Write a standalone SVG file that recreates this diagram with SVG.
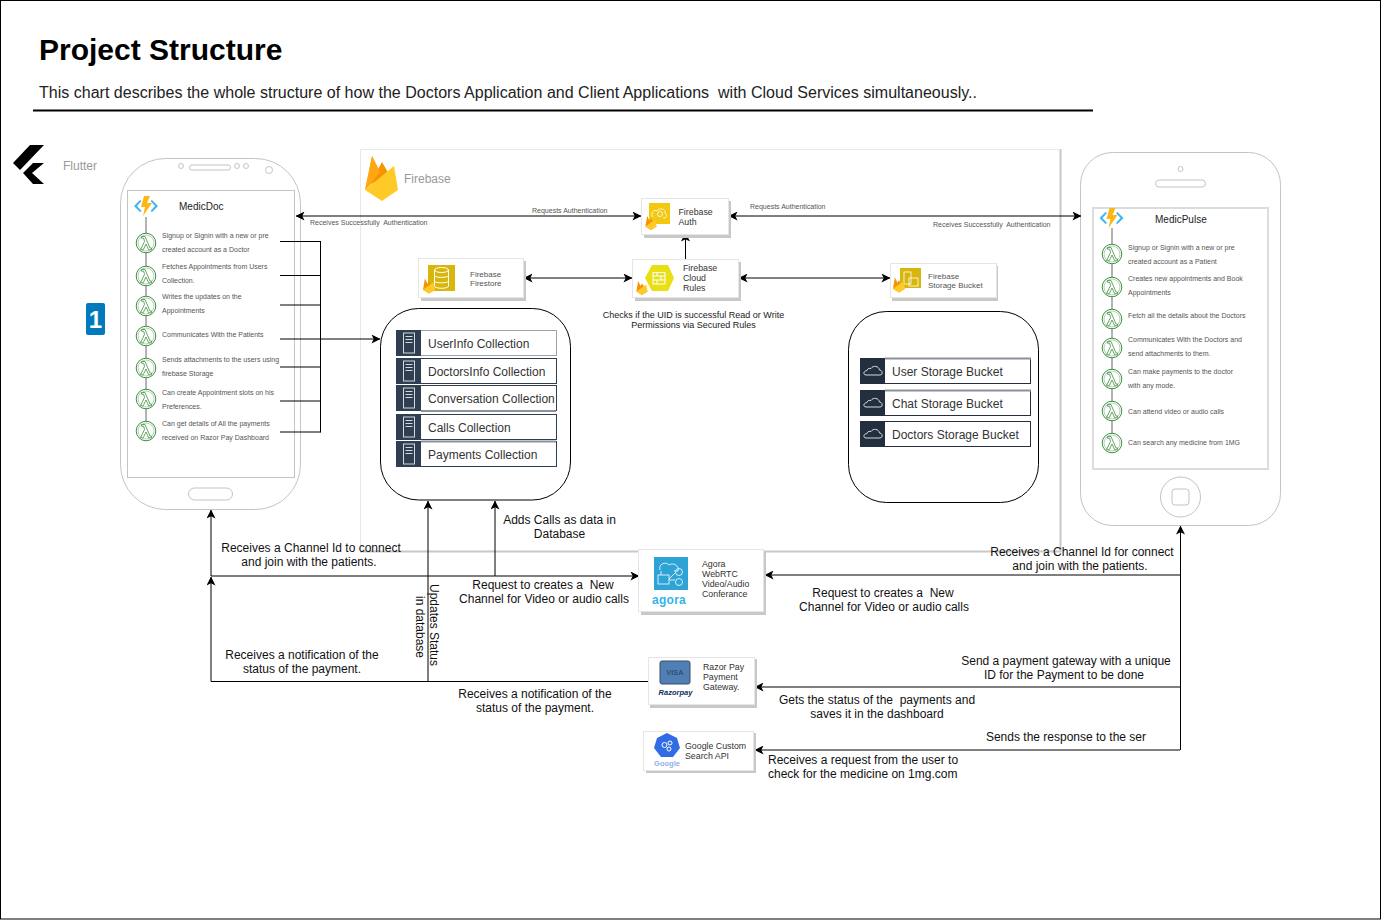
<svg xmlns="http://www.w3.org/2000/svg" width="1381" height="920" viewBox="0 0 1381 920">
<style>
text{font-family:"Liberation Sans",Arial,sans-serif;fill:#000;white-space:pre}
.l{font-size:12px;fill:#111}
.s{font-size:7px;fill:#555}
.t{font-size:8.800px;fill:#333}
.f{font-size:8px;fill:#555}
.a{font-size:7px;fill:#555}
.c{font-size:12px;fill:#333}
.m{text-anchor:middle}
.w{fill:none;stroke:#000;stroke-width:1}
.ph{fill:#fff;stroke:#c4c4c4;stroke-width:1}
.scr{fill:#fff;stroke:#c4c4c4;stroke-width:1}
.card{fill:#fff;stroke:#e6e6e6;stroke-width:1}
.sh{fill:#c8c8c8}
.rr{fill:#fff;stroke:#000;stroke-width:1}
.it{fill:#fff;stroke:#2f3e50;stroke-width:1}
.ib{fill:#2f3e50}
.sb{fill:#232f3e}
.top{stroke:#8a919b;stroke-width:2;fill:none}
</style>
<defs>
<marker id="a" viewBox="0 0 10 10" refX="9.500" refY="5" markerWidth="9" markerHeight="9" orient="auto-start-reverse" markerUnits="userSpaceOnUse"><path d="M0,0L10,5L0,10L2.500,5Z" fill="#000"/></marker>
<g id="lam"><circle cx="0" cy="0" r="9.800" fill="#fff" stroke="#3f8f3f" stroke-width="1"/><circle cx="0" cy="0" r="8" fill="none" stroke="#3f8f3f" stroke-width=".4"/><path d="M-4.500,-6.500H-1L4,5H5.500V6.800H2.700L0,1L-2.800,6.800H-5.500L-1.500,-1.500L-2.300,-4.800H-4.500Z" fill="#fff" stroke="#3f8f3f" stroke-width=".8"/></g>
<g id="fn"><path d="M-12,0L-6,-6L-4.500,-5L-9,0L-4.500,5L-6,6ZM12,0L6,-6L4.500,-5L9,0L4.500,5L6,6Z" fill="#3fb5ee"/><path d="M-2,-10H4L1,-3H6L-3,10L-1,1H-5Z" fill="#fcb714"/></g>
<g id="flame"><path d="M-8,5L-5.500,-10L-2,-3L0,-6.500L8,5L0,10Z" fill="#f59300"/><path d="M-8,5L6,-5L8,5L0,10Z" fill="#ffca28"/></g>
<g id="doc"><rect x="-5.500" y="-10" width="11" height="20" fill="none" stroke="#d5d9de" stroke-width="1"/><path d="M-3.500,-6.500H3.500M-3.500,-3.500H3.500M-3.500,-.5H3.500" stroke="#d5d9de" stroke-width="1"/></g>
<path id="cl" d="M-7,4H7C10,4 10,-1 6.500,-1C6,-5 0,-6 -2,-2.500C-5,-3.500 -6,-1 -6,-.5C-10,0 -10,4 -7,4Z" fill="none" stroke="#d5d9de" stroke-width="1"/>
</defs>
<rect width="1381" height="920" fill="#fff"/>
<rect x=".5" y=".5" width="1380" height="918.500" fill="none" stroke="#000"/>
<text x="39" y="60" style="font-size:30px;font-weight:bold">Project Structure</text>
<text x="39" y="98" style="font-size:16.050px;fill:#222">This chart describes the whole structure of how the Doctors Application and Client Applications  with Cloud Services simultaneously..</text>
<path d="M33,110.500H1093" stroke="#000" stroke-width="2"/>

<g id="firebase-container">
<path d="M1060.500,149V551.500H360" fill="none" stroke="#c8c8c8" stroke-width="2"/>
<path d="M360.500,551V149.500H1060" fill="none" stroke="#e8e8e8" stroke-width="1"/>
<path d="M365,190L372,156L382,176Z" fill="#ffc024"/><path d="M370,184L382,162L390,176Z" fill="#f59300"/><path d="M365,190L372,156L380,172L372,182Z" fill="#ffa712"/><path d="M365,190L394,166L398,190L382,201Z" fill="#ffca28"/>
<text x="404" y="183" style="font-size:12px;fill:#999">Firebase</text>
</g>

<g id="flutter-logo">
<path d="M13,163L30,145H44L20,170Z" fill="#000"/><path d="M33,163H44L32,173L44,184H33L23,173Z" fill="#000"/>
<text x="63" y="170" style="font-size:12px;fill:#999">Flutter</text>
</g>
<g id="badge"><rect x="86" y="303" width="19" height="32" rx="2" fill="#0079bd"/><text x="95.500" y="328" class="m" style="font-size:24px;font-weight:bold;fill:#fff">1</text></g>

<g id="medicdoc">
<rect class="ph" x="120.500" y="158.500" width="180" height="351" rx="45"/>
<rect class="scr" x="127.500" y="190.500" width="167" height="287"/>
<circle cx="181" cy="166" r="2.500" fill="#fff" stroke="#c4c4c4"/><rect x="189.500" y="165" width="41" height="5" rx="2.500" fill="#fff" stroke="#c4c4c4"/><circle cx="237" cy="166" r="2.500" fill="#fff" stroke="#c4c4c4"/><circle cx="246" cy="166" r="2.500" fill="#fff" stroke="#c4c4c4"/><circle cx="269" cy="170" r="3.500" fill="#fff" stroke="#c4c4c4"/>
<rect x="188.500" y="488" width="44" height="12" rx="6" fill="#fff" stroke="#c4c4c4"/>
<path d="M146,217V430" stroke="#666" stroke-width="1"/>
<use href="#fn" x="146" y="206"/>
<text x="179" y="210" style="font-size:10px;fill:#222">MedicDoc</text>
<use href="#lam" x="146" y="243"/><use href="#lam" x="146" y="276"/><use href="#lam" x="146" y="306"/><use href="#lam" x="146" y="336"/><use href="#lam" x="146" y="368"/><use href="#lam" x="146" y="399"/><use href="#lam" x="146" y="431"/>
<text class="s" x="162" y="238">Signup or Signin with a new or pre</text>
<text class="s" x="162" y="252">created account as a Doctor</text>
<text class="s" x="162" y="269">Fetches Appointments from Users</text>
<text class="s" x="162" y="283">Collection.</text>
<text class="s" x="162" y="299">Writes the updates on the</text>
<text class="s" x="162" y="313">Appointments</text>
<text class="s" x="162" y="337">Communicates With the Patients</text>
<text class="s" x="162" y="362">Sends attachments to the users using</text>
<text class="s" x="162" y="376">firebase Storage</text>
<text class="s" x="162" y="395">Can create Appointment slots on his</text>
<text class="s" x="162" y="409">Preferences.</text>
<text class="s" x="162" y="426">Can get details of All the payments</text>
<text class="s" x="162" y="440">received on Razor Pay Dashboard</text>
</g>

<g id="medicpulse">
<rect class="ph" x="1080.500" y="152.500" width="200" height="373" rx="32"/>
<rect x="1093" y="208" width="175" height="261" fill="#fff" stroke="#dcdcdc" stroke-width="2"/>
<circle cx="1180.500" cy="169" r="2.500" fill="#fff" stroke="#c4c4c4"/><rect x="1155.500" y="180" width="50" height="7" rx="3.500" fill="#fff" stroke="#c4c4c4"/>
<circle cx="1180.500" cy="497" r="20" fill="#fff" stroke="#c4c4c4"/><rect x="1172" y="489" width="17" height="16" rx="3" fill="#fff" stroke="#c4c4c4"/>
<path d="M1112,228V443" stroke="#666" stroke-width="1"/>
<use href="#fn" x="1111.500" y="218"/>
<text x="1155" y="223" style="font-size:10px;fill:#222">MedicPulse</text>
<use href="#lam" x="1112" y="254"/><use href="#lam" x="1112" y="287"/><use href="#lam" x="1112" y="319"/><use href="#lam" x="1112" y="348"/><use href="#lam" x="1112" y="379"/><use href="#lam" x="1112" y="411"/><use href="#lam" x="1112" y="443"/>
<text class="s" x="1128" y="250">Signup or Signin with a new or pre</text>
<text class="s" x="1128" y="264">created account as a Patient</text>
<text class="s" x="1128" y="281">Creates new appointments and Book</text>
<text class="s" x="1128" y="295">Appointments</text>
<text class="s" x="1128" y="318">Fetch all the details about the Doctors</text>
<text class="s" x="1128" y="342">Communicates With the Doctors and</text>
<text class="s" x="1128" y="356">send attachments to them.</text>
<text class="s" x="1128" y="374">Can make payments to the doctor</text>
<text class="s" x="1128" y="388">with any mode.</text>
<text class="s" x="1128" y="414">Can attend video or audio calls</text>
<text class="s" x="1128" y="445">Can search any medicine from 1MG</text>
</g>

<g id="firestore-collections">
<rect class="rr" x="380.500" y="308.500" width="190" height="191.500" rx="38"/>
<g id="c1"><rect class="it" x="396.500" y="330.500" width="160" height="25" style="stroke:#9aa3ad"/><rect class="ib" x="396" y="330" width="25" height="26"/><use href="#doc" x="409" y="343"/><text class="c" x="428" y="348">UserInfo Collection</text></g>
<g id="c2"><rect class="it" x="396.500" y="358.500" width="160" height="25"/><rect class="ib" x="396" y="358" width="25" height="26"/><use href="#doc" x="409" y="371"/><text class="c" x="428" y="376">DoctorsInfo Collection</text></g>
<g id="c3"><rect class="it" x="396.500" y="385.500" width="160" height="25"/><path class="top" d="M421,411H556"/><rect class="ib" x="396" y="385" width="25" height="26"/><use href="#doc" x="409" y="398"/><text class="c" x="428" y="403">Conversation Collection</text></g>
<g id="c4"><rect class="it" x="396.500" y="414.500" width="160" height="25"/><rect class="ib" x="396" y="414" width="25" height="26"/><use href="#doc" x="409" y="427"/><text class="c" x="428" y="432">Calls Collection</text></g>
<g id="c5"><rect class="it" x="396.500" y="441.500" width="160" height="25"/><path class="top" d="M421,441.500H556"/><rect class="ib" x="396" y="441" width="25" height="26"/><use href="#doc" x="409" y="454"/><text class="c" x="428" y="459">Payments Collection</text></g>
</g>

<g id="storage-buckets">
<rect class="rr" x="848.500" y="311.500" width="190" height="191" rx="38"/>
<g id="b1"><rect class="it" x="860.500" y="358.500" width="170" height="25" style="stroke:#232f3e"/><path class="top" d="M885,358.500H1031"/><rect class="sb" x="860" y="358" width="25" height="26"/><use href="#cl" x="873" y="371"/><text class="c" x="892" y="376">User Storage Bucket</text></g>
<g id="b2"><rect class="it" x="860.500" y="390.500" width="170" height="25" style="stroke:#232f3e"/><path class="top" d="M885,390.500H1031"/><rect class="sb" x="860" y="390" width="25" height="26"/><use href="#cl" x="873" y="403"/><text class="c" x="892" y="408">Chat Storage Bucket</text></g>
<g id="b3"><rect class="it" x="860.500" y="421.500" width="170" height="25" style="stroke:#232f3e"/><rect class="sb" x="860" y="421" width="25" height="26"/><use href="#cl" x="873" y="434"/><text class="c" x="892" y="439">Doctors Storage Bucket</text></g>
</g>

<g id="connectors">
<path class="w" d="M296,216H641" marker-start="url(#a)" marker-end="url(#a)"/>
<path class="w" d="M729,216H1081" marker-start="url(#a)" marker-end="url(#a)"/>
<path class="w" d="M685.500,259V233" marker-end="url(#a)"/>
<path class="w" d="M524,278H632" marker-start="url(#a)" marker-end="url(#a)"/>
<path class="w" d="M739,278H890" marker-start="url(#a)" marker-end="url(#a)"/>
<path class="w" d="M280,241.500H320.500M280,275.500H320.500M280,305H320.500M280,367H320.500M280,401H320.500M280,432H320.500M320.500,241V432.500"/>
<path class="w" d="M280,339H380" marker-end="url(#a)"/>
<path class="w" d="M211,576V510" marker-end="url(#a)"/>
<path class="w" d="M211,681.500V577" marker-end="url(#a)"/>
<path class="w" d="M211,576H639" marker-end="url(#a)"/>
<path class="w" d="M211,681.500H648"/>
<path class="w" d="M495,576V501" marker-end="url(#a)"/>
<path class="w" d="M428,681V501" marker-end="url(#a)"/>
<path class="w" d="M1180.500,750V526" marker-end="url(#a)"/>
<path class="w" d="M1180,575H765" marker-end="url(#a)"/>
<path class="w" d="M1180,687H755" marker-end="url(#a)"/>
<path class="w" d="M1180,750H755" marker-end="url(#a)"/>
</g>

<g id="firebase-auth"><rect class="sh" x="644" y="201" width="87" height="37"/><rect class="card" x="641.500" y="198.500" width="87" height="36"/><rect x="649" y="203" width="21" height="21" fill="#f2c811"/><path d="M653,217C650,213 654,209 657,211C659,207 666,209 665,213C668,215 666,219 663,218" fill="none" stroke="#fff" stroke-width=".8"/><circle cx="660" cy="214" r="2.500" fill="none" stroke="#fff" stroke-width=".8"/><use href="#flame" transform="translate(651 223) scale(.7)"/><text class="t" x="678.500" y="214.500">Firebase</text><text class="t" x="678.500" y="224.500">Auth</text></g>
<g id="firebase-firestore"><rect class="sh" x="421" y="261" width="105" height="40"/><rect class="card" x="418.500" y="258.500" width="105" height="39"/><rect x="428" y="265" width="27" height="26" fill="#d8b60c"/><ellipse cx="441.500" cy="270" rx="7" ry="2.500" fill="none" stroke="#fff"/><path d="M434.500,270V286C434.500,289 448.500,289 448.500,286V270M434.500,275.500C434.500,278 448.500,278 448.500,275.500M434.500,281C434.500,283.500 448.500,283.500 448.500,281" fill="none" stroke="#fff"/><use href="#flame" transform="translate(429 286) scale(.75)"/><text class="f" x="470" y="277">Firebase</text><text class="f" x="470" y="286">Firestore</text></g>
<g id="firebase-rules"><rect class="sh" x="635" y="262" width="106" height="39"/><rect class="card" x="632.500" y="259.500" width="106" height="38"/><path d="M645,278L652,265H668L674,278L668,291H652Z" fill="#e8e014"/><path d="M653,272.500H665V284H653ZM653,276H665M653,280H665M657,272.500V276M661,276V280M657,280V284" fill="none" stroke="#fff" stroke-width="1"/><use href="#flame" transform="translate(642 288) scale(.7)"/><text class="t" x="683" y="270.500">Firebase</text><text class="t" x="683" y="280.500">Cloud</text><text class="t" x="683" y="290.500">Rules</text></g>
<g id="firebase-storage"><rect class="sh" x="892" y="266" width="106" height="35"/><rect class="card" x="890.500" y="263.500" width="106" height="34"/><rect x="900" y="268" width="21" height="20" fill="#d8b60c"/><rect x="904" y="272" width="7" height="12" fill="none" stroke="#fff" stroke-width=".8"/><rect x="909" y="278" width="9" height="8" fill="none" stroke="#fff" stroke-width=".8"/><use href="#flame" transform="translate(899 285) scale(.75)"/><text class="f" x="928" y="279">Firebase</text><text class="f" x="928" y="288">Storage Bucket</text></g>
<g id="agora"><rect class="sh" x="641" y="552" width="125" height="63"/><rect class="card" x="638.500" y="549.500" width="125" height="62"/><rect x="654" y="557" width="34" height="33" fill="#2ea3d6"/><path d="M660,570C658,564 666,561 669,565C673,562 680,566 678,571H674M661,571V575" fill="none" stroke="#fff" stroke-width=".8"/><rect x="658" y="575" width="11" height="9" fill="none" stroke="#fff" stroke-width=".8"/><circle cx="679" cy="572" r="3.500" fill="none" stroke="#fff" stroke-width=".8"/><circle cx="679" cy="582" r="3.500" fill="none" stroke="#fff" stroke-width=".8"/><path d="M669,579L675,573M669,580H675" stroke="#fff" stroke-width=".8"/><text x="669" y="604" class="m" style="font-size:12px;font-weight:bold;fill:#31b5e8;letter-spacing:.3px">agora</text><text class="t" x="702" y="567">Agora</text><text class="t" x="702" y="577">WebRTC</text><text class="t" x="702" y="587">Video/Audio</text><text class="t" x="702" y="597">Conferance</text></g>
<g id="razorpay"><rect class="sh" x="650" y="659" width="107" height="49"/><rect class="card" x="648.500" y="657.500" width="106" height="47"/><rect x="660" y="661" width="30" height="23" rx="2" fill="#4f7fb5" stroke="#3a4f66"/><text x="675" y="675" class="m" style="font-size:7.500px;font-weight:bold;fill:#33506f">VISA</text><text x="675.500" y="695" class="m" style="font-size:7.500px;font-weight:bold;font-style:italic;fill:#0d2c5c">Razorpay</text><text class="t" x="703" y="670">Razor Pay</text><text class="t" x="703" y="680">Payment</text><text class="t" x="703" y="690">Gateway.</text></g>
<g id="google-search"><rect class="sh" x="646" y="733" width="110" height="40"/><rect class="card" x="643.500" y="731.500" width="110" height="39"/><path d="M667,733L677,738L680,748L673,757H661L654,748L657,738Z" fill="#326ce5"/><circle cx="664.500" cy="745" r="2.500" fill="none" stroke="#fff"/><circle cx="670" cy="743" r="2" fill="none" stroke="#fff"/><circle cx="669" cy="749" r="2" fill="none" stroke="#fff"/><text x="667" y="766" class="m" style="font-size:7.500px;font-weight:bold;fill:#8fb0e8">Google</text><text class="t" x="685" y="749">Google Custom</text><text class="t" x="685" y="759">Search API</text></g>

<g id="labels">
<text x="532" y="213" class="a">Requests Authentication</text>
<text x="750" y="209" class="a">Requests Authentication</text>
<text x="310" y="225" class="a">Receives Successfully  Authentication</text>
<text x="933" y="227" class="a">Receives Successfully  Authentication</text>
<text x="693.500" y="318" class="m" style="font-size:9px;fill:#222">Checks if the UID is successful Read or Write</text>
<text x="693.500" y="328" class="m" style="font-size:9px;fill:#222">Permissions via Secured Rules</text>
<text x="559.500" y="524" class="m l">Adds Calls as data in</text><text x="559.500" y="538" class="m l">Database</text>
<text x="311" y="552" class="m l">Receives a Channel Id to connect</text><text x="309" y="566" class="m l">and join with the patients.</text>
<text x="543" y="589" class="m l">Request to creates a  New</text><text x="544" y="603" class="m l">Channel for Video or audio calls</text>
<text x="1082" y="556" class="m l">Receives a Channel Id for connect</text><text x="1080" y="570" class="m l">and join with the patients.</text>
<text x="883" y="597" class="m l">Request to creates a  New</text><text x="884" y="611" class="m l">Channel for Video or audio calls</text>
<text x="302" y="659" class="m l">Receives a notification of the</text><text x="302" y="673" class="m l">status of the payment.</text>
<text x="535" y="698" class="m l">Receives a notification of the</text><text x="535" y="712" class="m l">status of the payment.</text>
<text x="1066" y="665" class="m l">Send a payment gateway with a unique</text><text x="1064" y="679" class="m l">ID for the Payment to be done</text>
<text x="877" y="704" class="m l">Gets the status of the  payments and</text><text x="877" y="718" class="m l">saves it in the dashboard</text>
<text x="1066" y="741" class="m l">Sends the response to the ser</text>
<text x="768" y="764" class="l">Receives a request from the user to</text><text x="768" y="778" class="l">check for the medicine on 1mg.com</text>
<text class="l m" transform="translate(430 625) rotate(90)">Updates Status</text>
<text class="l m" transform="translate(416 627) rotate(90)">in database</text>
</g>
</svg>
